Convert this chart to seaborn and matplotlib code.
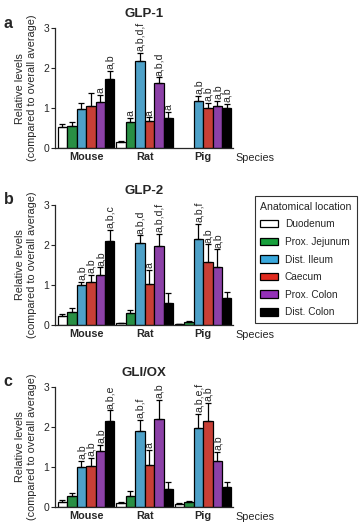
import matplotlib
matplotlib.use('Agg')
import matplotlib.pyplot as plt
import numpy as np
import pandas as pd
import seaborn as sns
from matplotlib.patches import Patch

sns.set_style('ticks')
plt.rcParams['font.family'] = ['Liberation Sans', 'DejaVu Sans']

species = ['Mouse', 'Rat', 'Pig']
tissues = ['Duodenum', 'Prox. Jejunum', 'Dist. Ileum', 'Caecum', 'Prox. Colon', 'Dist. Colon']
colours = ['#ffffff', '#18a03c', '#3aa8dc', '#e02a1e', '#9430b8', '#000000']

# values per species, in tissue order (nan = not measured)
glp1_mouse = [0.52, 0.55, 0.98, 1.05, 1.15, 1.73]
glp1_rat = [0.15, 0.65, 2.17, 0.67, 1.62, 0.76]
glp1_pig = [np.nan, np.nan, 1.18, 1.01, 1.05, 1.00]
glp1_err_mouse = [0.07, 0.10, 0.15, 0.33, 0.18, 0.20]
glp1_err_rat = [0.02, 0.10, 0.22, 0.10, 0.15, 0.15]
glp1_err_pig = [0, 0, 0.13, 0.12, 0.13, 0.10]

glp2_mouse = [0.23, 0.33, 1.00, 1.07, 1.24, 2.11]
glp2_rat = [0.04, 0.30, 2.06, 1.03, 1.98, 0.55]
glp2_pig = [0.02, 0.08, 2.15, 1.58, 1.45, 0.68]
glp2_err_mouse = [0.05, 0.08, 0.07, 0.18, 0.20, 0.27]
glp2_err_rat = [0.01, 0.07, 0.18, 0.35, 0.30, 0.25]
glp2_err_pig = [0.01, 0.02, 0.38, 0.44, 0.44, 0.13]

gli_mouse = [0.13, 0.27, 1.00, 1.03, 1.40, 2.14]
gli_rat = [0.10, 0.27, 1.91, 1.05, 2.21, 0.44]
gli_pig = [0.07, 0.11, 1.98, 2.15, 1.15, 0.50]
gli_err_mouse = [0.04, 0.07, 0.15, 0.20, 0.15, 0.28]
gli_err_rat = [0.03, 0.12, 0.27, 0.38, 0.47, 0.18]
gli_err_pig = [0.02, 0.04, 0.35, 0.45, 0.23, 0.12]

# significance letters: (species, tissue index) -> text
glp1_sig = {('Mouse', 4): 'a', ('Mouse', 5): 'a,b',
            ('Rat', 1): 'a', ('Rat', 2): 'a,b,d,f', ('Rat', 3): 'a',
            ('Rat', 4): 'a,b,d', ('Rat', 5): 'a',
            ('Pig', 2): 'a,b', ('Pig', 3): 'a,b', ('Pig', 4): 'a,b', ('Pig', 5): 'a,b'}
glp2_sig = {('Mouse', 2): 'a,b', ('Mouse', 3): 'a,b', ('Mouse', 4): 'a,b', ('Mouse', 5): 'a,b,c',
            ('Rat', 2): 'a,b,d', ('Rat', 3): 'a', ('Rat', 4): 'a,b,d,f',
            ('Pig', 2): 'a,b,f', ('Pig', 3): 'a,b', ('Pig', 4): 'a,b'}
gli_sig = {('Mouse', 2): 'a,b', ('Mouse', 3): 'a,b', ('Mouse', 4): 'a,b', ('Mouse', 5): 'a,b,e',
           ('Rat', 2): 'a,b,f', ('Rat', 3): 'a', ('Rat', 4): 'a,b',
           ('Pig', 2): 'a,b,e,f', ('Pig', 3): 'a,b', ('Pig', 4): 'a,b'}

panels = [
    ('a', 'GLP-1', [glp1_mouse, glp1_rat, glp1_pig], [glp1_err_mouse, glp1_err_rat, glp1_err_pig], glp1_sig),
    ('b', 'GLP-2', [glp2_mouse, glp2_rat, glp2_pig], [glp2_err_mouse, glp2_err_rat, glp2_err_pig], glp2_sig),
    ('c', 'GLI/OX', [gli_mouse, gli_rat, gli_pig], [gli_err_mouse, gli_err_rat, gli_err_pig], gli_sig),
]

fig = plt.figure(figsize=(3.6, 5.23), dpi=100)
# axes boxes [left, bottom, width, height] in figure fractions
boxes = [[0.153, 0.717, 0.494, 0.229],
         [0.153, 0.379, 0.494, 0.229],
         [0.153, 0.031, 0.494, 0.229]]

width = 0.97
nt = len(tissues)
for (letter, title, vals, errs, sig), box in zip(panels, boxes):
    ax = fig.add_axes(box)
    rows = []
    for s, v, e in zip(species, vals, errs):
        for t, vv, ee in zip(tissues, v, e):
            rows.append({'Species': s, 'Tissue': t, 'value': vv, 'err': ee})
    df = pd.DataFrame(rows)
    sns.barplot(data=df, x='Species', y='value', hue='Tissue', order=species,
                hue_order=tissues, palette=colours, width=width, errorbar=None,
                edgecolor='black', linewidth=0.9, legend=False, ax=ax)
    bw = width / nt
    for i, s in enumerate(species):
        for j in range(nt):
            v = vals[i][j]
            if np.isnan(v):
                continue
            x = i - width / 2 + (j + 0.5) * bw
            e = errs[i][j]
            ax.errorbar(x, v, yerr=[[0], [e]], fmt='none', ecolor='black',
                        elinewidth=0.9, capsize=2.2, capthick=0.9)
            if (s, j) in sig:
                ax.text(x + 0.01, v + e + 0.04, sig[(s, j)], rotation=90,
                        ha='center', va='bottom', fontsize=7.6)
    ax.set_ylim(0, 3)
    ax.set_xlim(-0.53, 2.51)
    ax.set_yticks([0, 1, 2, 3])
    ax.tick_params(axis='y', labelsize=7.5, length=3, width=0.8, pad=1)
    ax.tick_params(axis='x', length=0, labelsize=7.8, pad=3)
    for lab in ax.get_xticklabels():
        lab.set_fontweight('bold')
    ax.set_xlabel('')
    ax.set_ylabel('Relative levels\n(compared to overall average)', fontsize=7.8, labelpad=5)
    ax.set_title(title, fontsize=9.5, fontweight='bold', pad=8)
    sns.despine(ax=ax)
    for sp in ['left', 'bottom']:
        ax.spines[sp].set_linewidth(0.9)
    ax.annotate('Species', xy=(1.015, -0.04), xycoords='axes fraction',
                ha='left', va='top', fontsize=7.8)
    fig.text(0.01, box[1] + box[3] + 0.01, letter, fontsize=11.5, fontweight='bold',
             va='center', ha='left')

handles = [Patch(facecolor=c, edgecolor='black', linewidth=0.9) for c in colours]
leg = fig.legend(handles, tissues, title='Anatomical location', loc='upper left',
                 bbox_to_anchor=(0.708, 0.625), fontsize=7.3, title_fontsize=7.6,
                 frameon=True, fancybox=False, edgecolor='black',
                 handlelength=1.7, handleheight=0.75, labelspacing=0.75,
                 borderpad=0.55, handletextpad=0.7, borderaxespad=0)
leg.get_frame().set_linewidth(0.8)
leg._legend_box.align = 'left'

fig.savefig('out.png', dpi=100)
